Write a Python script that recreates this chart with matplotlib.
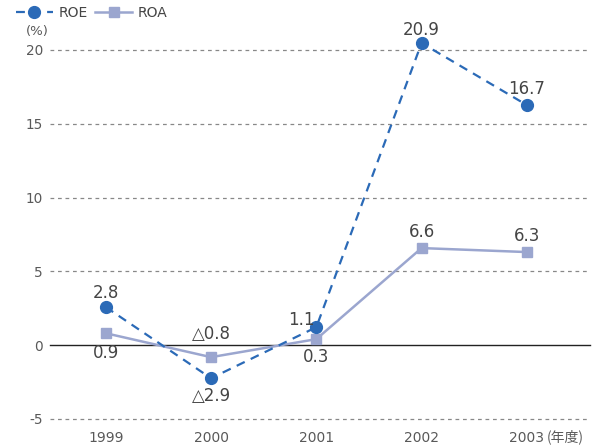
import matplotlib
matplotlib.use("Agg")
import matplotlib.pyplot as plt
from matplotlib.lines import Line2D

plt.rcParams['font.family'] = ['DejaVu Sans', 'Noto Sans CJK JP']

years = ["1999", "2000", "2001", "2002", "2003"]
roe = [2.58, -2.24, 1.22, 20.47, 16.27]
roa = [0.81, -0.81, 0.41, 6.58, 6.31]
roe_labels = ["2.8", "△2.9", "1.1", "20.9", "16.7"]
roa_labels = ["0.9", "△0.8", "0.3", "6.6", "6.3"]
yticks = [-5, 0, 5, 10, 15, 20]

ROE_C = "#2B6AB7"
ROA_C = "#9BA6CF"
TXT = "#454545"

fig = plt.figure(figsize=(5.94, 4.47), dpi=100)
W, H = 594, 447
ax = fig.add_axes([50 / W, (H - 419) / H, 540 / W, 369 / H])
x = list(range(len(years)))
ax.set_xlim(-0.53, 4.6)
ax.set_ylim(-5, 20)
for s in ax.spines.values():
    s.set_visible(False)
for t in yticks:
    if t == 0:
        ax.axhline(0, color="#222222", lw=1.0, zorder=1, clip_on=False)
    else:
        ax.axhline(t, color="#888888", lw=0.9, ls=(0, (3, 3)), zorder=1, clip_on=False)

ax.plot(x, roa, color=ROA_C, lw=1.8, marker="s", ms=7.5, zorder=3, clip_on=False)
ax.plot(x, roe, color=ROE_C, lw=1.6, ls=(0, (4, 3)), marker="o", ms=8.5, zorder=4, clip_on=False)

ax.set_yticks(yticks)
ax.set_yticklabels([str(t) for t in yticks])
ax.set_xticks(x)
ax.set_xticklabels(years)
ax.tick_params(axis="y", length=0, labelsize=9.8, colors="#595959", pad=5)
ax.tick_params(axis="x", length=0, labelsize=10, colors="#595959", pad=9)
ax.annotate("(年度)", xy=(x[-1], 0), xycoords=("data", "axes fraction"),
            xytext=(14, -12.5), textcoords="offset points", ha="left", va="center",
            fontsize=10, color="#595959", family=["Noto Sans CJK JP"], annotation_clip=False)

# data labels (offsets in points)
roe_off = [(0, 10), (0, -12.5), (-11, 5), (0, 9.5), (0, 11.5)]
roa_off = [(0, -14.5), (0, 16.5), (0, -12.5), (0, 11.5), (0, 11.5)]
for i in x:
    ax.annotate(roe_labels[i], (i, roe[i]), xytext=roe_off[i], textcoords="offset points",
                ha="center", va="center", fontsize=12, color=TXT, zorder=5,
                annotation_clip=False)
    ax.annotate(roa_labels[i], (i, roa[i]), xytext=roa_off[i], textcoords="offset points",
                ha="center", va="center", fontsize=12, color=TXT, zorder=5,
                annotation_clip=False)

fig.text(26 / W, 1 - 32 / H, "(%)", ha="left", va="center", fontsize=9.5, color="#595959")

handles = [
    Line2D([], [], color=ROE_C, lw=1.6, ls=(0, (4, 3)), marker="o", ms=8.5),
    Line2D([], [], color=ROA_C, lw=1.8, marker="s", ms=7.5),
]
fig.legend(handles, ["ROE", "ROA"], loc="center left", bbox_to_anchor=(3 / W, 1 - 13 / H),
           ncol=2, frameon=False, fontsize=10, handlelength=2.7, columnspacing=0.5,
           handletextpad=0.4, labelcolor=TXT)

fig.savefig("out.png", dpi=100)
